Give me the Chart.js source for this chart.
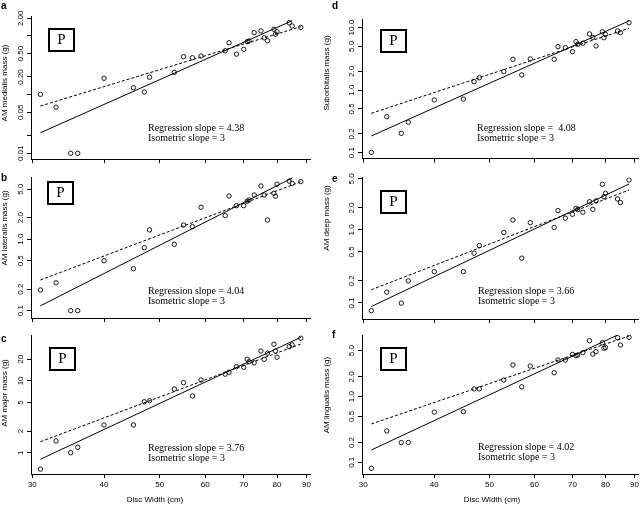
<!DOCTYPE html>
<html>
<head>
<meta charset="utf-8">
<script src="https://cdn.jsdelivr.net/npm/chart.js@4.4.1/dist/chart.umd.min.js"></script>
<style>
  body { margin: 0; background: #fff; }
  #fig { position: relative; width: 643px; height: 506px; }
  .panel { position: absolute; }
</style>
</head>
<body>
<div id="fig"></div>
<script>
// Disc width (cm) - same animals in every panel
const discWidth = [31, 33, 35, 36, 40, 45, 47, 48, 53, 55, 57, 59, 65, 66, 68, 70, 71, 71.5, 73, 75, 76, 77, 79, 79.5, 80, 84, 85, 88];

// muscle masses (g)
const medialisMass = [0.101, 0.061, 0.01, 0.01, 0.19, 0.131, 0.111, 0.198, 0.24, 0.443, 0.426, 0.455, 0.56, 0.767, 0.49, 0.593, 0.8, 0.82, 1.14, 1.22, 0.93, 0.83, 1.3, 1.07, 1.18, 1.68, 1.48, 1.4];
const lateralisMass = [0.195, 0.246, 0.1, 0.1, 0.5, 0.387, 0.76, 1.35, 0.85, 1.58, 1.5, 2.8, 2.14, 4.03, 2.95, 2.95, 3.4, 3.54, 4.16, 5.56, 4.16, 1.86, 4.4, 4.0, 5.9, 6.5, 6.05, 6.4];
const majorMass = [0.59, 1.46, 1.0, 1.19, 2.43, 2.43, 5.13, 5.3, 7.7, 9.45, 6.17, 10.3, 12.4, 13.2, 15.8, 15.5, 20, 18.5, 17.9, 26.1, 20, 24.3, 32.4, 26, 21.4, 30, 31.7, 39.3];
const suborbitalisMass = [0.101, 0.376, 0.204, 0.307, 0.697, 0.72, 1.37, 1.58, 1.98, 3.12, 1.75, 3.16, 3.12, 4.97, 4.79, 4.13, 5.97, 5.42, 5.63, 7.93, 7.0, 5.1, 8.6, 6.9, 7.8, 8.85, 8.3, 12.0];
const deepMass = [0.078, 0.14, 0.099, 0.2, 0.268, 0.268, 0.48, 0.61, 0.92, 1.37, 0.41, 1.26, 1.08, 1.84, 1.45, 1.64, 1.98, 1.9, 1.75, 2.44, 1.92, 2.5, 4.23, 2.86, 3.18, 2.66, 2.37, 4.84];
const lingualisMass = [0.081, 0.3, 0.2, 0.2, 0.58, 0.59, 1.31, 1.31, 1.79, 3.03, 1.41, 2.92, 2.31, 3.61, 3.61, 4.4, 4.2, 4.3, 4.66, 7.1, 4.45, 4.83, 6.6, 5.44, 5.6, 7.9, 6.1, 8.0];

// fitted lines (end points): regression (solid) and isometric (dashed)
const regX = [[31, 85], [31, 85], [31, 88], [31, 88], [31, 88], [31, 84]];
const regY = [[0.0224, 1.82], [0.117, 7.2], [0.81, 40.5], [0.185, 12.8], [0.089, 4.27], [0.154, 8.66]];
const isoX = [31, 88];
const isoY = [[0.064, 1.44], [0.269, 6.38], [1.42, 32.7], [0.426, 9.78], [0.151, 3.53], [0.383, 8.37]];

const regSlope = ['4.38', '4.04', '3.76', ' 4.08', '3.66', '4.02'];
const yTitles = ['AM medialis mass (g)', 'AM lateralis mass (g)', 'AM major mass (g)',
                 'Suborbitalis mass (g)', 'AM deep mass (g)', 'AM lingualis mass (g)'];

// tick values and labels
const xTicks = [30, 40, 50, 60, 70, 80, 90];
const xTickLabels = ['30', '40', '50', '60', '70', '80', '90'];
const yTicksA = [0.01, 0.02, 0.05, 0.1, 0.2, 0.5, 1, 2];
const yLabelsA = ['0.01', '', '0.05', '', '0.20', '0.50', '', '2.00'];
const yTicksB = [0.1, 0.2, 0.5, 1, 2, 5];
const yLabelsB = ['0.1', '0.2', '0.5', '1.0', '2.0', '5.0'];
const yTicksC = [1, 2, 5, 10, 20];
const yLabelsC = ['1', '2', '5', '10', '20'];
const yTicksD = [0.1, 0.2, 0.5, 1, 2, 5, 10];
const yLabelsD = ['0.1', '0.2', '0.5', '1.0', '2.0', '5.0', '10.0'];

const massData = [medialisMass, lateralisMass, majorMass, suborbitalisMass, deepMass, lingualisMass];
const yTickSets = [[yTicksA, yLabelsA], [yTicksB, yLabelsB], [yTicksC, yLabelsC],
                   [yTicksD, yLabelsD], [yTicksB, yLabelsB], [yTicksB, yLabelsB]];

// layout: canvas box, plot area (page coords), axis ranges, decoration spots
const panels = [
  { letter: 'a', box: [0, 0, 320, 165], area: [31, 16, 310, 159], yRange: [0.008, 2.19],
    letterAt: [1, 9], pBox: [49, 29], text: [148, 128.5], yTitleAt: [5, 83] },
  { letter: 'b', box: [0, 165, 320, 165], area: [31, 177, 310, 318], yRange: [0.079, 7.43],
    letterAt: [1, 181], pBox: [48, 182], text: [148, 291], yTitleAt: [5, 228] },
  { letter: 'c', box: [0, 330, 320, 176], area: [31, 335, 310, 474], yRange: [0.505, 43.6],
    letterAt: [1, 342], pBox: [50, 348], text: [148, 448.5], yTitleAt: [5, 393], xTitleAt: [155, 500] },
  { letter: 'd', box: [320, 0, 323, 165], area: [362, 19.5, 641, 158.5], yRange: [0.0807, 13.5],
    letterAt: [332, 9], pBox: [381, 30], text: [477, 128.5], yTitleAt: [327, 73] },
  { letter: 'e', box: [320, 165, 323, 165], area: [362, 177.5, 641, 319], yRange: [0.06, 5.24],
    letterAt: [332, 182], pBox: [381, 191], text: [478, 291], yTitleAt: [327, 218] },
  { letter: 'f', box: [320, 330, 323, 176], area: [362, 335, 641, 474], yRange: [0.0663, 8.67],
    letterAt: [332, 338], pBox: [381, 348], text: [478, 447.5], yTitleAt: [327, 395], xTitleAt: [492, 500] }
];

const sans = '"Liberation Sans", Arial, Helvetica, sans-serif';
const serif = '"Liberation Serif", "Times New Roman", serif';

const measureCtx = document.createElement('canvas').getContext('2d');
function labelPadding(labels) {
  measureCtx.font = '8px ' + sans;
  const widest = Math.max(...labels.map(l => measureCtx.measureText(l).width));
  return 6 - widest / 2;
}

// panel letter, "P" box, slope text and axis titles
const panelDecor = {
  id: 'panelDecor',
  afterDraw(chart, args, o) {
    const ctx = chart.ctx;
    const ox = o.box[0], oy = o.box[1];
    ctx.save();
    ctx.fillStyle = '#000';
    ctx.font = 'bold 10px ' + sans;
    ctx.textAlign = 'left';
    ctx.textBaseline = 'alphabetic';
    ctx.fillText(o.letter, o.letterAt[0] - ox, o.letterAt[1] - oy);

    const bx = o.pBox[0] - ox, by = o.pBox[1] - oy;
    ctx.fillStyle = '#fff';
    ctx.fillRect(bx, by, 25, 22);
    ctx.lineWidth = 2;
    ctx.strokeStyle = '#000';
    ctx.strokeRect(bx, by, 25, 22);
    ctx.fillStyle = '#000';
    ctx.font = '15px ' + serif;
    ctx.textAlign = 'center';
    ctx.textBaseline = 'middle';
    ctx.fillText('P', bx + 12.5, by + 11.5);

    ctx.font = '10px ' + serif;
    ctx.textAlign = 'left';
    ctx.fillText('Regression slope = ' + o.slope, o.text[0] - ox, o.text[1] - oy);
    ctx.fillText('Isometric slope = 3', o.text[0] - ox, o.text[1] - oy + 10);

    ctx.font = '8px ' + sans;
    ctx.textAlign = 'center';
    ctx.save();
    ctx.translate(o.yTitleAt[0] - ox, o.yTitleAt[1] - oy);
    ctx.rotate(-Math.PI / 2);
    ctx.fillText(o.yTitle, 0, 0);
    ctx.restore();
    if (o.xTitleAt) {
      ctx.fillText('Disc Width (cm)', o.xTitleAt[0] - ox, o.xTitleAt[1] - oy);
    }
    ctx.restore();
  }
};

const fig = document.getElementById('fig');

panels.forEach((p, i) => {
  const [bx, by, bw, bh] = p.box;
  const [al, at, ar, ab] = p.area;
  const div = document.createElement('div');
  div.className = 'panel';
  div.style.left = bx + 'px';
  div.style.top = by + 'px';
  div.style.width = bw + 'px';
  div.style.height = bh + 'px';
  const canvas = document.createElement('canvas');
  div.appendChild(canvas);
  fig.appendChild(div);

  const bottomRow = !!p.xTitleAt;
  const [yTicks, yLabels] = yTickSets[i];

  new Chart(canvas, {
    type: 'scatter',
    data: {
      datasets: [
        {
          data: discWidth.map((x, k) => ({ x: x, y: massData[i][k] })),
          pointStyle: 'circle',
          pointRadius: 2.2,
          pointBorderWidth: 0.9,
          pointBorderColor: '#000',
          pointBackgroundColor: 'rgba(0,0,0,0)'
        },
        {
          data: regX[i].map((x, k) => ({ x: x, y: regY[i][k] })),
          showLine: true,
          borderColor: '#000',
          borderWidth: 1,
          pointRadius: 0
        },
        {
          data: isoX.map((x, k) => ({ x: x, y: isoY[i][k] })),
          showLine: true,
          borderColor: '#000',
          borderWidth: 1,
          borderDash: [3, 2],
          pointRadius: 0
        }
      ]
    },
    options: {
      responsive: true,
      maintainAspectRatio: false,
      animation: false,
      layout: { padding: { top: at - by, right: bx + bw - ar, left: 0, bottom: 0 } },
      plugins: {
        legend: { display: false },
        tooltip: { enabled: false },
        panelDecor: {
          letter: p.letter, box: p.box, letterAt: p.letterAt, pBox: p.pBox, text: p.text,
          slope: regSlope[i], yTitle: yTitles[i], yTitleAt: p.yTitleAt, xTitleAt: p.xTitleAt
        }
      },
      scales: {
        x: {
          type: 'logarithmic',
          min: 29.85,
          max: 91.3,
          afterBuildTicks: s => { s.ticks = xTicks.map(v => ({ value: v })); },
          afterFit: s => { s.height = by + bh - ab; s.paddingLeft = 0; s.paddingRight = 0; },
          grid: { display: true, drawOnChartArea: false, drawTicks: true, tickLength: 4, color: '#000' },
          border: { display: true, color: '#000', width: 1 },
          ticks: {
            autoSkip: false,
            maxRotation: 0,
            padding: 2,
            color: '#000',
            font: { family: sans, size: 8 },
            callback: (v, k) => bottomRow ? xTickLabels[k] : ''
          }
        },
        y: {
          type: 'logarithmic',
          min: p.yRange[0],
          max: p.yRange[1],
          afterBuildTicks: s => { s.ticks = yTicks.map(v => ({ value: v })); },
          afterFit: s => { s.width = al - bx; s.paddingTop = 0; s.paddingBottom = 0; },
          grid: { display: true, drawOnChartArea: false, drawTicks: true, tickLength: 4, color: '#000' },
          border: { display: true, color: '#000', width: 1 },
          ticks: {
            autoSkip: false,
            minRotation: 90,
            maxRotation: 90,
            crossAlign: 'center',
            padding: labelPadding(yLabels),
            color: '#000',
            font: { family: sans, size: 8 },
            callback: (v, k) => yLabels[k]
          }
        }
      }
    },
    plugins: [panelDecor]
  });
});
</script>
</body>
</html>
